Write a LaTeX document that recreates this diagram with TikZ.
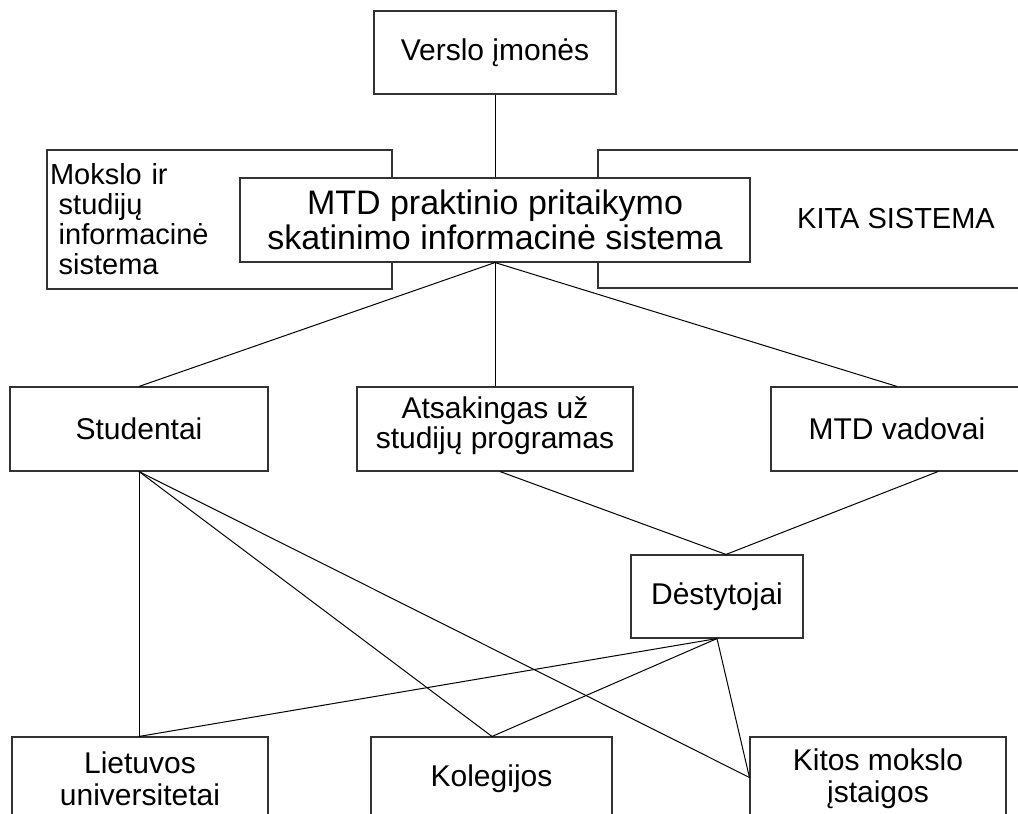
\documentclass[tikz,border=0pt]{standalone}
\usepackage{fontspec}
\setmainfont{Liberation Sans}
\usetikzlibrary{calc}

\tikzset{
  box/.style={draw=black!80, line width=1.1pt, fill=white, inner sep=0pt,
              align=center, font=\fontsize{30}{30}\selectfont},
  link/.style={draw=black, line width=1pt},
}

\begin{document}
\begin{tikzpicture}[x=1pt, y=-1pt]
  \useasboundingbox (0,0) rectangle (1018,814);

  % side systems, partly hidden behind the central system
  \node[box, minimum width=345pt, minimum height=139pt, text width=339pt,
        align=left, font=\fontsize{29}{30}\selectfont]
        (mokslo) at (219.5,219.5)
        {Mokslo ir\\\hspace*{0.3em}studijų\\\hspace*{0.3em}informacinė\\\hspace*{0.3em}sistema};
  \node[box, minimum width=596pt, minimum height=138pt, font=\fontsize{29}{29}\selectfont]
        (kita) at (896,219) {KITA SISTEMA};

  % top level
  \node[box, minimum width=242pt, minimum height=83pt] (verslo) at (495,52.5) {Verslo įmonės};
  \node[box, minimum width=510pt, minimum height=84pt, font=\fontsize{34}{35}\selectfont]
        (mtd) at (495,220) {MTD praktinio pritaikymo\\skatinimo informacinė sistema};

  % middle level
  \node[box, minimum width=258pt, minimum height=84pt] (stud) at (139,429) {Studentai};
  \node[box, minimum width=276pt, minimum height=84pt, text depth=12pt]
        (atsak) at (495,429) {Atsakingas už\\studijų programas};
  \node[box, minimum width=252pt, minimum height=84pt] (vad) at (897,429) {MTD vadovai};
  \node[box, minimum width=172pt, minimum height=83pt] (dest) at (717,596.5) {Dėstytojai};

  % bottom level
  \node[box, minimum width=256pt, minimum height=84pt, font=\fontsize{30}{32}\selectfont]
        (liet) at (140,779) {Lietuvos\\universitetai};
  \node[box, minimum width=241pt, minimum height=84pt] (koleg) at (491.5,779) {Kolegijos};
  \node[box, minimum width=256pt, minimum height=84pt, font=\fontsize{30}{32}\selectfont]
        (kitos) at (878,779) {Kitos mokslo\\įstaigos};

  % connectors
  \draw[link] (verslo.south) -- (mtd.north);
  \draw[link] (mtd.south) -- (stud.north);
  \draw[link] (mtd.south) -- (atsak.north);
  \draw[link] (mtd.south) -- (vad.north);

  \coordinate (destTop) at ($(dest.north)+(9,0)$);
  \draw[link] ($(atsak.south)+(5,0)$) -- (destTop);
  \draw[link] ($(vad.south)+(41,0)$) -- (destTop);

  \coordinate (lietTop) at ($(liet.north)+(-1,0)$);
  \coordinate (kolTop) at ($(koleg.north)+(0.5,0)$);
  \coordinate (kitosLeft) at ($(kitos.north west)+(0,41)$);

  \draw[link] (stud.south) -- (lietTop);
  \draw[link] (stud.south) -- (kolTop);
  \draw[link] (stud.south) -- (kitosLeft);

  \draw[link] (dest.south) -- (lietTop);
  \draw[link] (dest.south) -- (kolTop);
  \draw[link] (dest.south) -- (kitosLeft);
\end{tikzpicture}
\end{document}
